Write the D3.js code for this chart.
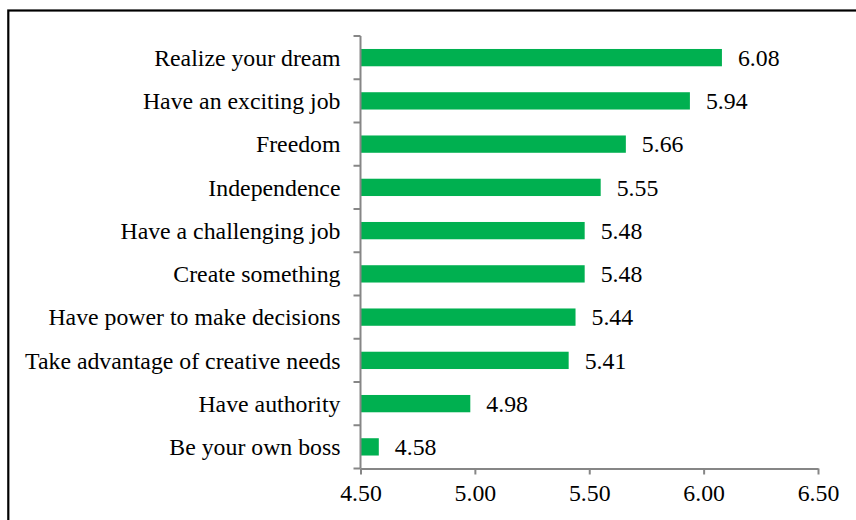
<!DOCTYPE html>
<html>
<head>
<meta charset="utf-8">
<script src="https://cdn.jsdelivr.net/npm/d3@7"></script>
<style>
  html, body { margin: 0; padding: 0; background: #fff; }
  svg { display: block; }
</style>
</head>
<body>
<svg id="chart"></svg>
<script>
var categories = [
  'Realize your dream',
  'Have an exciting job',
  'Freedom',
  'Independence',
  'Have a challenging job',
  'Create something',
  'Have power to make decisions',
  'Take advantage of creative needs',
  'Have authority',
  'Be your own boss'
];
var values = [6.08, 5.94, 5.66, 5.55, 5.48, 5.48, 5.44, 5.41, 4.98, 4.58];
var xTicks = [4.5, 5.0, 5.5, 6.0, 6.5];

var FONT = "'Times New Roman', 'Liberation Serif', 'DejaVu Serif', serif";
var FS = '23.8px';
var width = 856, height = 520;
var svg = d3.select('#chart')
  .attr('width', width)
  .attr('height', height)
  .style('font-family', FONT);

// outer frame (runs off the right and bottom edge)
svg.append('rect')
  .attr('x', 8.3)
  .attr('y', 10.5)
  .attr('width', 1000)
  .attr('height', 1000)
  .attr('fill', 'none')
  .attr('stroke', '#000')
  .attr('stroke-width', 2.2);

var plotLeft = 360.5, plotRight = 818, plotTop = 36, plotBottom = 468.5;

var x = d3.scaleLinear().domain([4.5, 6.5]).range([plotLeft, plotRight]);
var y = d3.scaleBand().domain(categories).range([plotTop, plotBottom]).paddingInner(0.6).paddingOuter(0.3);

var data = categories.map(function(c, i){ return {name: c, value: values[i]}; });

svg.selectAll('.bar')
  .data(data)
  .enter().append('rect')
    .attr('class', 'bar')
    .attr('x', x(4.5))
    .attr('y', function(d){ return y(d.name); })
    .attr('width', function(d){ return x(d.value) - x(4.5); })
    .attr('height', y.bandwidth())
    .attr('fill', '#00B050');

svg.selectAll('.val')
  .data(data)
  .enter().append('text')
    .attr('class', 'val')
    .attr('x', function(d){ return x(d.value) + 16; })
    .attr('y', function(d){ return y(d.name) + y.bandwidth() / 2; })
    .attr('dy', '0.35em')
    .attr('font-family', FONT)
    .style('font-size', FS)
    .text(function(d){ return d.value.toFixed(2); });

// x axis
var xAxis = d3.axisBottom(x)
  .tickValues(xTicks)
  .tickFormat(d3.format('.2f'))
  .tickSize(6)
  .tickSizeOuter(0)
  .tickPadding(10);
var gx = svg.append('g')
  .attr('transform', 'translate(0,' + plotBottom + ')')
  .call(xAxis)
  .attr('font-family', FONT);
gx.select('.domain').attr('stroke', '#868686').attr('stroke-width', 2);
gx.selectAll('.tick line').attr('stroke', '#868686').attr('stroke-width', 2);
gx.selectAll('.tick text')
  .style('font-size', FS)
  .attr('fill', '#000');

// y axis: ticks sit on the category boundaries
var bounds = d3.range(categories.length + 1).map(function(i){
  return plotTop + i * (plotBottom - plotTop) / categories.length;
});
var gy = svg.append('g');
gy.append('line')
  .attr('x1', plotLeft).attr('x2', plotLeft)
  .attr('y1', plotTop).attr('y2', plotBottom)
  .attr('stroke', '#868686').attr('stroke-width', 2);
gy.selectAll('.ytick')
  .data(bounds)
  .enter().append('line')
    .attr('class', 'ytick')
    .attr('x1', plotLeft - 7).attr('x2', plotLeft)
    .attr('y1', function(d){ return d; })
    .attr('y2', function(d){ return d; })
    .attr('stroke', '#868686').attr('stroke-width', 2);

gy.selectAll('.ylab')
  .data(categories)
  .enter().append('text')
    .attr('class', 'ylab')
    .attr('x', plotLeft - 20)
    .attr('y', function(d){ return y(d) + y.bandwidth() / 2; })
    .attr('dy', '0.35em')
    .attr('text-anchor', 'end')
    .attr('font-family', FONT)
    .style('font-size', FS)
    .text(function(d){ return d; });
</script>
</body>
</html>
